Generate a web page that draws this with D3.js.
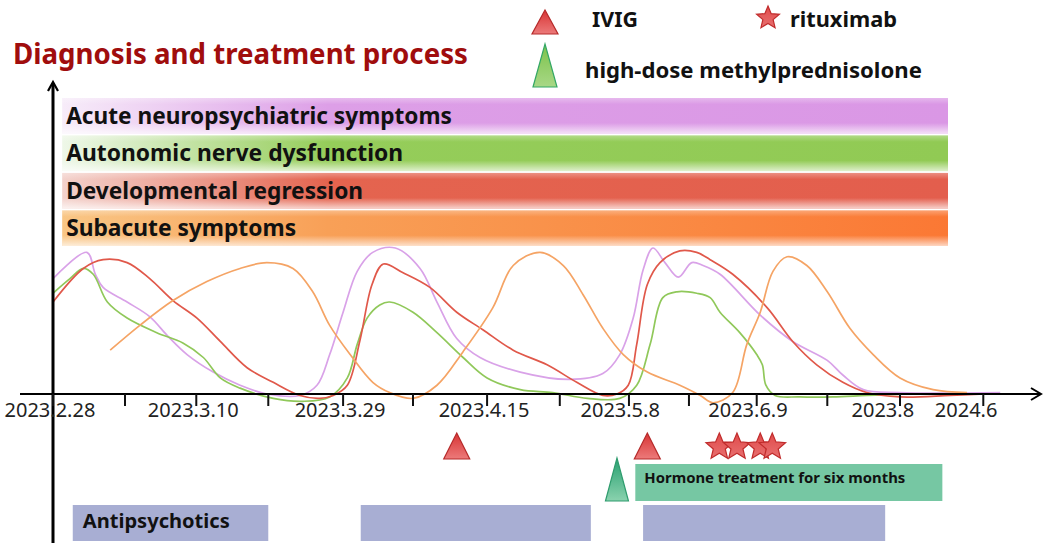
<!DOCTYPE html>
<html>
<head>
<meta charset="utf-8">
<script src="https://cdn.jsdelivr.net/npm/d3@7"></script>
<style>
  body { margin: 0; background: #fff; }
  svg { display: block; font-family: "Noto Sans", "Open Sans", sans-serif; }
</style>
</head>
<body>
<div id="chart"></div>
<script>
// timeline position of each axis tick (one unit ~ one tick step)
const tickVals = [0, 1.02, 2.03, 3.05, 4.11, 5.10, 6.15, 7.18, 8.16, 9.01, 9.97, 10.97, 12, 13.18];
const tickLabels = ["2023.2.28", "", "2023.3.10", "", "2023.3.29", "", "2023.4.15", "", "2023.5.8", "", "2023.6.9", "", "2023.8", "2024.6"];

const symptoms = ["Acute neuropsychiatric symptoms", "Autonomic nerve dysfunction", "Developmental regression", "Subacute symptoms"];
const symptomSpan = [0.13, 12.68];

// severity curves: [time, severity 0-100]
const acuteCurve = [[0,79],[0.48,97],[0.60,82],[0.71,73],[1.05,63],[1.37,53],[1.62,40],[1.90,27],[2.27,15],[2.65,6],[3.03,0],[3.50,-1],[3.74,6],[3.92,27],[4.11,56],[4.31,84],[4.53,97],[4.85,100],[5.20,86],[5.44,63],[5.72,38],[6.05,25],[6.62,15],[7.32,10],[7.79,14],[8.03,27],[8.22,52],[8.36,85],[8.50,100],[8.67,90],[8.86,80],[9.05,90],[9.21,88],[9.45,82],[10.02,54],[10.48,36],[10.97,23],[11.19,13],[11.48,3],[12.00,1],[13.42,1]];
const autonomicCurve = [[0,69],[0.24,79],[0.43,86],[0.57,82],[0.77,63],[1.05,52],[1.47,42],[1.84,35],[2.13,25],[2.37,11],[2.65,4],[3.12,-3],[3.54,-5],[3.92,-2],[4.17,11],[4.31,34],[4.45,52],[4.63,61],[4.77,63],[5.10,56],[5.44,42],[5.81,25],[6.15,11],[6.62,3],[7.08,1],[7.57,-3],[8.03,-3],[8.27,6],[8.46,34],[8.64,66],[8.84,70],[9.12,69],[9.31,66],[9.45,56],[9.73,42],[9.97,27],[10.05,20],[10.10,6],[10.23,-1],[10.58,-2],[11.05,-2],[11.53,-1],[12.13,0]];
const regressionCurve = [[0,63],[0.43,86],[0.71,92],[1.05,90],[1.37,79],[1.70,64],[2.04,52],[2.37,36],[2.75,18],[3.12,8],[3.50,-1],[3.78,-3],[3.97,-1],[4.17,6],[4.35,37],[4.52,75],[4.68,89],[4.96,83],[5.34,73],[5.72,56],[6.09,44],[6.52,30],[7.00,20],[7.42,8],[7.79,-1],[7.99,0],[8.15,6],[8.27,34],[8.42,75],[8.60,90],[8.88,98],[9.12,97],[9.31,92],[9.63,82],[10.12,59],[10.48,36],[10.82,20],[11.19,8],[11.53,1],[12.00,-2],[12.71,-1],[13.20,0]];
const subacuteCurve = [[0.81,30],[1.23,47],[1.70,64],[2.18,77],[2.65,86],[3.03,90],[3.40,86],[3.68,70],[3.92,47],[4.21,27],[4.53,8],[4.77,1],[5.10,-3],[5.44,6],[5.81,29],[6.23,59],[6.52,88],[6.90,97],[7.23,88],[7.51,68],[7.79,45],[8.08,27],[8.42,15],[8.88,6],[9.17,-1],[9.35,-6],[9.63,1],[9.83,34],[10.02,56],[10.20,84],[10.40,94],[10.68,88],[10.97,70],[11.29,45],[11.62,27],[12.00,11],[12.47,3],[12.95,1]];

// treatments
const ivigDays = [5.72, 8.42];
const rituximabDays = [9.44, 9.69, 10.02, 10.19];
const methylpredDays = [7.99];
const hormoneSpan = [8.25, 12.60];
const antipsychoticSpans = [[0.28, 3.05], [4.36, 7.62], [8.36, 11.79]];

const W = 1052, H = 543;
const svg = d3.select("#chart").append("svg").attr("width", W).attr("height", H);
const defs = svg.append("defs");

const x = d3.scaleLinear().domain([0, 12]).range([53, 900]);
const y = d3.scaleLinear().domain([0, 100]).range([394, 248]);
const band = d3.scaleBand().domain(symptoms).range([98, 246]).paddingInner(0.05);

function fitText(sel, w) {
  let fs = parseFloat(sel.attr("font-size"));
  let cur = sel.node().getComputedTextLength();
  sel.attr("font-size", (fs * w / cur).toFixed(2));
}

// ---- gradients
const barColors = [
  ["#f7ecf9", "#dd9fe7", "#da97e5"],
  ["#eef7e8", "#95cd5a", "#91ca54"],
  ["#f3d2cc", "#e4644f", "#e35e4d"],
  ["#f9c685", "#f8a057", "#fb7834"]
];
barColors.forEach(function(c, i) {
  let g = defs.append("linearGradient").attr("id", "bar" + i);
  g.append("stop").attr("offset", "0%").attr("stop-color", c[0]);
  g.append("stop").attr("offset", "30%").attr("stop-color", c[1]);
  g.append("stop").attr("offset", "100%").attr("stop-color", c[2]);
});
let glow = defs.append("linearGradient").attr("id", "glow").attr("x1", 0).attr("x2", 0).attr("y1", 0).attr("y2", 1);
glow.append("stop").attr("offset", "0%").attr("stop-color", "#fff").attr("stop-opacity", 0.3);
glow.append("stop").attr("offset", "18%").attr("stop-color", "#fff").attr("stop-opacity", 0);
glow.append("stop").attr("offset", "70%").attr("stop-color", "#fff").attr("stop-opacity", 0);
glow.append("stop").attr("offset", "100%").attr("stop-color", "#fff").attr("stop-opacity", 0.7);

function vGrad(id, top, bottom) {
  let g = defs.append("linearGradient").attr("id", id).attr("x1", 0).attr("x2", 0).attr("y1", 0).attr("y2", 1);
  g.append("stop").attr("offset", "0%").attr("stop-color", top);
  g.append("stop").attr("offset", "100%").attr("stop-color", bottom);
}
vGrad("redTri", "#d83434", "#ec7a7a");
vGrad("greenTri", "#7cc24a", "#a8d886");
vGrad("tealTri", "#27a070", "#8ad2ae");
vGrad("starFill", "#e04a4a", "#e87070");

// ---- title
svg.append("text").attr("x", 13).attr("y", 64)
  .attr("font-size", 24).attr("font-weight", "bold").attr("fill", "#a00d0d")
  .text("Diagnosis and treatment process")
  .call(fitText, 455);

// ---- symptom bars
symptoms.forEach(function(s, i) {
  let x0 = x(symptomSpan[0]), x1 = x(symptomSpan[1]);
  svg.append("rect").attr("x", x0).attr("y", band(s)).attr("width", x1 - x0).attr("height", band.bandwidth())
    .attr("fill", "url(#bar" + i + ")");
  svg.append("rect").attr("x", x0).attr("y", band(s)).attr("width", x1 - x0).attr("height", band.bandwidth())
    .attr("fill", "url(#glow)");
});
const labelWidths = [386, 337, 297, 230];
symptoms.forEach(function(s, i) {
  svg.append("text").attr("x", x(symptomSpan[0]) + 4).attr("y", band(s) + band.bandwidth() / 2 + 8)
    .attr("font-size", 20).attr("font-weight", "bold").attr("fill", "#111")
    .text(s)
    .call(fitText, labelWidths[i]);
});

// ---- curves
const line = d3.line().x(d => x(d[0])).y(d => y(d[1])).curve(d3.curveCatmullRom.alpha(0.5));
const curves = [
  [acuteCurve, "#d9a2e8"],
  [autonomicCurve, "#90c85a"],
  [regressionCurve, "#e0584a"],
  [subacuteCurve, "#f5a465"]
];
curves.forEach(function(c) {
  svg.append("path").datum(c[0]).attr("d", line)
    .attr("fill", "none").attr("stroke", c[1]).attr("stroke-width", 1.7);
});

// ---- axes
svg.append("line").attr("x1", 20).attr("x2", 1040).attr("y1", y(0)).attr("y2", y(0))
  .attr("stroke", "#000").attr("stroke-width", 2);
svg.append("path").attr("d", "M1031," + (y(0) - 6) + "L1041," + y(0) + "L1031," + (y(0) + 6))
  .attr("fill", "none").attr("stroke", "#000").attr("stroke-width", 2);
svg.append("line").attr("x1", x(0)).attr("x2", x(0)).attr("y1", 83).attr("y2", H)
  .attr("stroke", "#000").attr("stroke-width", 3);
svg.append("path").attr("d", "M" + (x(0) - 5) + ",91L" + x(0) + ",82L" + (x(0) + 5) + ",91")
  .attr("fill", "none").attr("stroke", "#000").attr("stroke-width", 2.2);

tickVals.forEach(function(t, i) {
  svg.append("line").attr("x1", x(t)).attr("x2", x(t)).attr("y1", y(0)).attr("y2", y(0) + 12)
    .attr("stroke", "#111").attr("stroke-width", 2);
  if (tickLabels[i]) {
    let tx = svg.append("text").attr("x", x(t)).attr("y", 417)
      .attr("font-size", 20).attr("fill", "#222").text(tickLabels[i]);
    let n = tx.node();
    let dot = (n.getSubStringLength(0, 4) + n.getSubStringLength(0, 5)) / 2;
    tx.attr("x", x(t) - dot);
  }
});

// ---- markers
function triangle(cx, top, bottom, w) {
  return "M" + cx + "," + top + "L" + (cx + w / 2) + "," + bottom + "L" + (cx - w / 2) + "," + bottom + "Z";
}
function star(cx, cy, R) {
  let r = R * 0.45, pts = [];
  for (let k = 0; k < 10; k++) {
    let a = -Math.PI / 2 + k * Math.PI / 5, rr = k % 2 ? r : R;
    pts.push([cx + rr * Math.cos(a), cy + rr * Math.sin(a)]);
  }
  return "M" + pts.join("L") + "Z";
}

ivigDays.forEach(function(d) {
  svg.append("path").attr("d", triangle(x(d), 433, 459, 26))
    .attr("fill", "url(#redTri)").attr("stroke", "#b52a2a").attr("stroke-width", 1.2);
});
rituximabDays.forEach(function(d) {
  svg.append("path").attr("d", star(x(d), 447, 14))
    .attr("fill", "url(#starFill)").attr("stroke", "#c02c2c").attr("stroke-width", 1.2);
});

// hormone + antipsychotics
svg.append("rect").attr("x", x(hormoneSpan[0])).attr("y", 464)
  .attr("width", x(hormoneSpan[1]) - x(hormoneSpan[0])).attr("height", 37)
  .attr("fill", "#76c7a3");
svg.append("text").attr("x", x(hormoneSpan[0]) + 9).attr("y", 483)
  .attr("font-size", 14).attr("font-weight", "bold").attr("fill", "#111")
  .text("Hormone treatment for six months")
  .call(fitText, 261);
methylpredDays.forEach(function(d) {
  svg.append("path").attr("d", triangle(x(d), 458, 501, 23))
    .attr("fill", "url(#tealTri)").attr("stroke", "#2f9c6e").attr("stroke-width", 1.2);
});

antipsychoticSpans.forEach(function(s) {
  svg.append("rect").attr("x", x(s[0])).attr("y", 505)
    .attr("width", x(s[1]) - x(s[0])).attr("height", 36)
    .attr("fill", "#a8aed3");
});
svg.append("text").attr("x", x(antipsychoticSpans[0][0]) + 10).attr("y", 528)
  .attr("font-size", 18).attr("font-weight", "bold").attr("fill", "#111")
  .text("Antipsychotics")
  .call(fitText, 147);

// ---- legend
svg.append("path").attr("d", triangle(545, 10, 34, 26))
  .attr("fill", "url(#redTri)").attr("stroke", "#b52a2a").attr("stroke-width", 1.2);
svg.append("text").attr("x", 592).attr("y", 27).attr("font-size", 22).attr("font-weight", "bold")
  .attr("fill", "#111").text("IVIG").call(fitText, 46);
svg.append("path").attr("d", star(768, 18, 12))
  .attr("fill", "url(#starFill)").attr("stroke", "#c02c2c").attr("stroke-width", 1.2);
svg.append("text").attr("x", 790).attr("y", 27).attr("font-size", 22).attr("font-weight", "bold")
  .attr("fill", "#111").text("rituximab").call(fitText, 107);
svg.append("path").attr("d", triangle(545, 44, 87, 24))
  .attr("fill", "url(#greenTri)").attr("stroke", "#33a765").attr("stroke-width", 1.2);
svg.append("text").attr("x", 585).attr("y", 78).attr("font-size", 22).attr("font-weight", "bold")
  .attr("fill", "#111").text("high-dose methylprednisolone").call(fitText, 337);
</script>
</body>
</html>
